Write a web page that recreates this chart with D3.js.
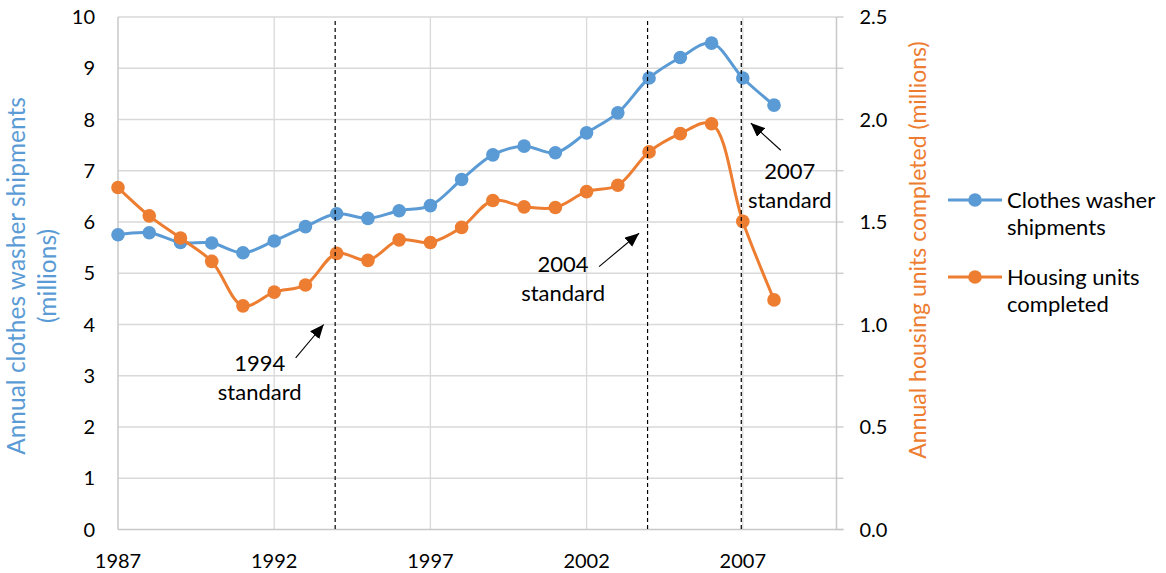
<!DOCTYPE html>
<html>
<head>
<meta charset="utf-8">
<script src="https://cdn.jsdelivr.net/npm/d3@7/dist/d3.min.js"></script>
<style>
  html, body { margin: 0; padding: 0; background: #fff; }
  svg { display: block; font-family: Lato, "Open Sans", sans-serif; }
</style>
</head>
<body>
<svg id="chart" width="1166" height="573"></svg>
<script>
// Years covered by both series
const years = [1987, 1988, 1989, 1990, 1991, 1992, 1993, 1994, 1995, 1996, 1997,
               1998, 1999, 2000, 2001, 2002, 2003, 2004, 2005, 2006, 2007, 2008];

// Annual clothes washer shipments (millions)
const washerShipments = [5.75, 5.79, 5.60, 5.59, 5.40, 5.63, 5.91, 6.16, 6.07, 6.22, 6.32,
                         6.83, 7.31, 7.48, 7.35, 7.74, 8.13, 8.81, 9.21, 9.49, 8.81, 8.28];

// Annual housing units completed (millions)
const housingCompleted = [1.668, 1.530, 1.422, 1.308, 1.091, 1.158, 1.193, 1.347, 1.313, 1.413, 1.400,
                          1.474, 1.605, 1.574, 1.571, 1.648, 1.679, 1.842, 1.931, 1.979, 1.503, 1.120];

// Efficiency standards marked on the chart
const standardYears = [1994, 2004, 2007];
const standardLabels = ["1994", "2004", "2007"];

// Axis ticks
const xTicks = [1987, 1992, 1997, 2002, 2007];
const leftTicks = [0, 1, 2, 3, 4, 5, 6, 7, 8, 9, 10];
const rightTicks = [0, 0.5, 1.0, 1.5, 2.0, 2.5];
const rightMinorTicks = [0, 0.25, 0.5, 0.75, 1.0, 1.25, 1.5, 1.75, 2.0, 2.25, 2.5];

const seriesNames = ["Clothes washer shipments", "Housing units completed"];
const colors = ["#5B9BD5", "#ED7D31"];

const svg = d3.select("#chart");
const plot = { left: 118, right: 836.5, top: 17, bottom: 529.5 };

const x = d3.scaleLinear().domain([1987, 2010]).range([plot.left, plot.right]);
const yL = d3.scaleLinear().domain([0, 10]).range([plot.bottom, plot.top]);
const yR = d3.scaleLinear().domain([0, 2.5]).range([plot.bottom, plot.top]);

const FS_TICK = 20;
const FS_TEXT = 22;
const FS_TITLE = 24.5;
const FS_TITLE_R = 23;

// Horizontal gridlines
svg.append("g").selectAll("line").data(leftTicks.filter(d => d > 0)).join("line")
  .attr("x1", plot.left).attr("x2", plot.right)
  .attr("y1", d => yL(d)).attr("y2", d => yL(d))
  .attr("stroke", "#D9D9D9").attr("stroke-width", 1.3);

// Vertical gridlines
svg.append("g").selectAll("line").data(xTicks.filter(d => d > 1987)).join("line")
  .attr("x1", d => x(d)).attr("x2", d => x(d))
  .attr("y1", plot.top).attr("y2", plot.bottom)
  .attr("stroke", "#D9D9D9").attr("stroke-width", 1.3);

// Axis lines
const axisColor = "#C8C8C8";
svg.append("line").attr("x1", x(1987)).attr("x2", x(1987))
  .attr("y1", plot.top).attr("y2", plot.bottom).attr("stroke", axisColor).attr("stroke-width", 1.5);
svg.append("line").attr("x1", plot.left).attr("x2", plot.right + 7)
  .attr("y1", plot.bottom).attr("y2", plot.bottom).attr("stroke", axisColor).attr("stroke-width", 1.5);
svg.append("line").attr("x1", plot.right).attr("x2", plot.right)
  .attr("y1", plot.top).attr("y2", plot.bottom).attr("stroke", axisColor).attr("stroke-width", 1.5);

// Right axis tick marks
svg.append("g").selectAll("line").data(rightMinorTicks).join("line")
  .attr("x1", plot.right).attr("x2", plot.right + 7)
  .attr("y1", d => yR(d)).attr("y2", d => yR(d))
  .attr("stroke", axisColor).attr("stroke-width", 1.3);

// Left tick labels
svg.append("g").selectAll("text").data(leftTicks).join("text")
  .attr("x", plot.left - 23).attr("y", d => yL(d))
  .attr("dy", "0.35em").attr("text-anchor", "end")
  .attr("font-size", FS_TICK).attr("fill", "#000")
  .text(d => d);

// Right tick labels
svg.append("g").selectAll("text").data(rightTicks).join("text")
  .attr("x", plot.right + 23).attr("y", d => yR(d))
  .attr("dy", "0.35em").attr("text-anchor", "start")
  .attr("font-size", FS_TICK).attr("fill", "#000")
  .text(d => d.toFixed(1));

// Bottom tick labels
svg.append("g").selectAll("text").data(xTicks).join("text")
  .attr("x", d => x(d)).attr("y", plot.bottom + 31)
  .attr("dy", "0.35em").attr("text-anchor", "middle")
  .attr("font-size", FS_TICK).attr("fill", "#000")
  .text(d => d);

// Axis titles
const leftTitle = svg.append("text")
  .attr("transform", `translate(0, 276) rotate(-90)`)
  .attr("text-anchor", "middle").attr("font-size", FS_TITLE).attr("fill", colors[0]);
leftTitle.append("tspan").attr("x", 0).attr("y", 25).text("Annual clothes washer shipments");
leftTitle.append("tspan").attr("x", 0).attr("y", 56).text("(millions)");

svg.append("text")
  .attr("transform", `translate(0, 250) rotate(-90)`)
  .attr("text-anchor", "middle")
  .attr("x", 0).attr("y", 926)
  .attr("font-size", FS_TITLE_R).attr("fill", colors[1])
  .text("Annual housing units completed (millions)");

// Series
const series = [
  { name: seriesNames[0], values: washerShipments, y: yL, color: colors[0] },
  { name: seriesNames[1], values: housingCompleted, y: yR, color: colors[1] }
];

series.forEach(s => {
  const pts = years.map((yr, i) => [yr, s.values[i]]);
  const line = d3.line()
    .x(d => x(d[0])).y(d => s.y(d[1]))
    .curve(d3.curveCatmullRom.alpha(0.5));
  svg.append("path").datum(pts)
    .attr("d", line).attr("fill", "none")
    .attr("stroke", s.color).attr("stroke-width", 3)
    .attr("stroke-linejoin", "round");
  svg.append("g").selectAll("circle").data(pts).join("circle")
    .attr("cx", d => x(d[0])).attr("cy", d => s.y(d[1]))
    .attr("r", 6.8).attr("fill", s.color);
});

// Standard year markers
svg.append("g").selectAll("line").data(standardYears).join("line")
  .attr("x1", d => x(d) - 1.5).attr("x2", d => x(d) - 1.5)
  .attr("y1", plot.top + 4).attr("y2", plot.bottom)
  .attr("stroke", "#000").attr("stroke-width", 1.2)
  .attr("stroke-dasharray", "4,3");

// Arrow marker
svg.append("defs").append("marker")
  .attr("id", "arrowhead")
  .attr("viewBox", "0 0 14 12").attr("refX", 14).attr("refY", 6)
  .attr("markerWidth", 14).attr("markerHeight", 12)
  .attr("markerUnits", "userSpaceOnUse")
  .attr("orient", "auto")
  .append("path").attr("d", "M0,0 L14,6 L0,12 Z").attr("fill", "#000");

// Annotations: label anchored in data units, arrow pointing at the dashed line
const notes = [
  { label: standardLabels[0], tx: x(standardYears[0]) - 77, ty: yL(3.25),
    from: [x(standardYears[0]) - 41, yL(3.35)], to: [x(standardYears[0]) - 13, yL(4.0)] },
  { label: standardLabels[1], tx: x(standardYears[1]) - 86, ty: yL(5.18),
    from: [x(standardYears[1]) - 50, yL(5.13)], to: [x(standardYears[1]) - 10, yL(5.78)] },
  { label: standardLabels[2], tx: x(standardYears[2]) + 47, ty: yL(6.99),
    from: [x(standardYears[2]) + 38, yL(7.4)], to: [x(standardYears[2]) + 8, yL(7.93)] }
];

notes.forEach(n => {
  const t = svg.append("text").attr("text-anchor", "middle")
    .attr("font-size", FS_TEXT).attr("fill", "#000");
  t.append("tspan").attr("x", n.tx).attr("y", n.ty).attr("dy", "0.35em").text(n.label);
  t.append("tspan").attr("x", n.tx).attr("y", n.ty + 29).attr("dy", "0.35em").text("standard");
  svg.append("line")
    .attr("x1", n.from[0]).attr("y1", n.from[1])
    .attr("x2", n.to[0]).attr("y2", n.to[1])
    .attr("stroke", "#000").attr("stroke-width", 1.1)
    .attr("marker-end", "url(#arrowhead)");
});

// Legend
const legend = svg.append("g");
const legendRows = [
  { y: 200, lines: ["Clothes washer", "shipments"], color: colors[0] },
  { y: 277, lines: ["Housing units", "completed"], color: colors[1] }
];
legendRows.forEach(r => {
  legend.append("line").attr("x1", 948).attr("x2", 1002)
    .attr("y1", r.y).attr("y2", r.y)
    .attr("stroke", r.color).attr("stroke-width", 3);
  legend.append("circle").attr("cx", 975).attr("cy", r.y).attr("r", 6.8).attr("fill", r.color);
  const t = legend.append("text").attr("font-size", FS_TEXT).attr("fill", "#000");
  r.lines.forEach((ln, i) => {
    t.append("tspan").attr("x", 1007).attr("y", r.y + i * 27).attr("dy", "0.35em").text(ln);
  });
});
</script>
</body>
</html>
